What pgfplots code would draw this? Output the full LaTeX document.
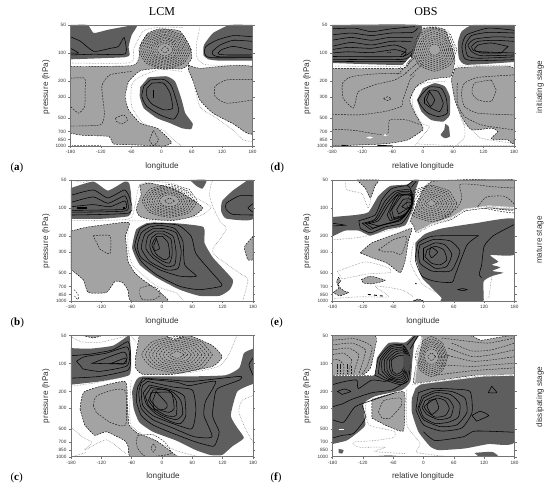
\documentclass[border=0pt]{standalone}
\usepackage{fontspec}
\setmainfont{Liberation Sans}
\newfontfamily\serif{Liberation Serif}
\usepackage{pgfplots}
\pgfplotsset{compat=1.18}
\definecolor{lg}{gray}{0.64}
\definecolor{dg}{gray}{0.37}
\definecolor{fr}{gray}{0.45}
\definecolor{tx}{gray}{0.2}
\pgfplotsset{
 cellaxis/.style={scale only axis,width=182pt,height=121pt,anchor=south west,
  xmin=-180,xmax=180,ymin=50,ymax=1000,y dir=reverse,
  xtick={-180,-120,-60,0,60,120,180},
  xticklabels={-180,-120,-60,0,60,120,180},
  ytick={50,100,200,300,500,700,850,1000},
  yticklabels={50,100,200,300,500,700,850,1000},
  minor tick num=0,
  axis line style={draw=fr,line width=.5pt},
  tick style={draw=fr,line width=.4pt},major tick length=2pt,
  tick align=outside,xtick pos=bottom,ytick pos=both,yticklabel pos=left,
  ticklabel style={font=\fontsize{4.7}{5}\selectfont,text=tx},
  xticklabel style={yshift=1pt},yticklabel style={xshift=1pt},
  axis on top},
 lgf/.style={fill=lg,draw=black,dash pattern=on 1.8pt off 1.2pt,line width=.45pt,mark=none,smooth,tension=.3},
 dgf/.style={fill=dg,draw=none,mark=none,smooth,tension=.3},
 wtf/.style={fill=white,draw=none,mark=none},
 scn/.style={draw=black,solid,line width=.55pt,mark=none,smooth,tension=.35},
 kdn/.style={draw=black!90,dash pattern=on 1.8pt off 1.2pt,line width=.45pt,mark=none,smooth,tension=.35},
 zdt/.style={draw=black!50,densely dotted,line width=.55pt,mark=none,smooth,tension=.35},
 bwh/.style={draw=white,solid,line width=1.6pt,mark=none},
}
\newcommand{\lab}[3]{\node[font=\fontsize{8.2}{9}\selectfont,text=tx] at (#1pt,#2pt) {#3};}
\newcommand{\rlab}[3]{\node[rotate=90,font=\fontsize{8.2}{9}\selectfont,text=tx] at (#1pt,#2pt) {#3};}
\begin{document}
\begin{tikzpicture}
\path[use as bounding box] (0pt,0pt) rectangle (550pt,488pt);
% ---------- (a)
\begin{semilogyaxis}[cellaxis,at={(70.5pt,342pt)}]
\addplot[lgf] coordinates {(-180,140)(-59,137)(-45,115)(-42,85)(-28,62)(-3,55)(36,58)(56,85)(60,112)(50,137)(40,148)(-3,146)(-42,155)(-65,203)(-72,294)(-65,408)(-42,568)(-9,643)(10,790)(20,925)(4,1000)(-55,972)(-95,950)(-104,790)(-154,770)(-180,730)} --cycle;
\addplot[lgf] coordinates {(53,134)(76,146)(180,143)(180,730)(142,578)(102,444)(76,320)(63,203)(53,152)} --cycle;
\addplot[dgf] coordinates {(-180,50)(-146,50)(-134,61)(-104,56)(-49,50)(-59,64)(-65,85)(-63,105)(-72,111)(-121,114)(-180,117)} --cycle;
\addplot[dgf] coordinates {(180,50)(135,50)(102,61)(84,82)(83,105)(93,117)(116,121)(180,121)} --cycle;
\addplot[dgf] coordinates {(-26,183)(10,178)(27,203)(40,320)(47,444)(62,578)(58,660)(40,643)(17,568)(-9,502)(-35,392)(-43,294)(-42,232)} --cycle;
\addplot[scn,smooth=false] coordinates {(-180,67)(-160,75)(-134,96)(-101,89)(-85,85)(-74,68)(-72,102)(-134,103)(-180,105)};
\addplot[scn] coordinates {(-180,89)(-164,100)(-180,100)};
\addplot[scn] coordinates {(180,67)(142,65)(109,73)(88,85)(85,100)(96,112)(180,112)};
\addplot[scn] coordinates {(180,75)(142,73)(116,82)(101,96)(102,105)(116,110)(180,110)};
\addplot[scn] coordinates {(180,93)(142,85)(119,92)(112,102)(129,105)(180,105)};
\addplot[scn] coordinates {(-22,195)(4,192)(20,228)(34,408)(24,515)(-3,463)(-29,376)(-39,294)(-35,228)} --cycle;
\addplot[scn] coordinates {(-19,211)(4,211)(17,271)(22,392)(4,408)(-19,353)(-29,294)(-29,239)} --cycle;
\addplot[scn,line width=1pt] coordinates {(-15,250)(-15,305)};
\addplot[kdn] coordinates {(-180,187)(-152,187)(-151,250)(-152,376)(-164,444)(-180,376)};
\addplot[kdn] coordinates {(-59,158)(-102,172)(-118,228)(-113,444)(-121,592)(-180,610)};
\addplot[kdn] coordinates {(-91,502)(-75,463)(-67,525)(-78,578)(-89,546)} --cycle;
\addplot[kdn] coordinates {(-16,680)(-6,860)(-16,990)(-24,860)} --cycle;
\addplot[kdn] coordinates {(180,192)(129,195)(106,228)(106,294)(129,347)(180,320)};
\addplot[kdn] coordinates {(59,92)(44,129)(7,150)(-30,129)(-45,92)(-30,65)(7,56)(44,65)} --cycle;
\addplot[kdn] coordinates {(55,92)(41,126)(7,145)(-27,126)(-41,92)(-27,67)(7,58)(41,67)} --cycle;
\addplot[kdn] coordinates {(51,92)(38,123)(7,139)(-24,123)(-37,92)(-24,69)(7,60)(38,69)} --cycle;
\addplot[kdn] coordinates {(47,92)(35,120)(7,134)(-21,120)(-33,92)(-21,71)(7,63)(35,71)} --cycle;
\addplot[kdn] coordinates {(43,92)(32,117)(7,129)(-18,117)(-29,92)(-18,72)(7,65)(32,72)} --cycle;
\addplot[kdn] coordinates {(39,92)(29,114)(7,125)(-15,114)(-25,92)(-15,74)(7,68)(29,74)} --cycle;
\addplot[kdn] coordinates {(35,92)(26,111)(7,120)(-12,111)(-21,92)(-12,76)(7,70)(26,76)} --cycle;
\addplot[kdn] coordinates {(31,92)(24,109)(7,116)(-10,109)(-17,92)(-10,78)(7,73)(24,78)} --cycle;
\addplot[kdn] coordinates {(27,92)(21,105)(7,112)(-7,105)(-13,92)(-7,80)(7,76)(21,80)} --cycle;
\addplot[kdn] coordinates {(23,92)(18,102)(7,108)(-4,102)(-9,92)(-4,83)(7,79)(18,83)} --cycle;
\addplot[kdn] coordinates {(15,92)(7,100)(-1,92)(7,85)} --cycle;
\addplot[zdt] coordinates {(-180,128)(-62,127)(-55,90)(-36,58)(-6,53)(43,53)};
\addplot[zdt] coordinates {(76,53)(70,75)(70,112)(89,134)(180,135)};
\addplot[zdt] coordinates {(40,158)(-3,150)(-42,180)(-59,220)(-59,376)(-36,568)(4,680)(24,860)(40,1000)};
\addplot[zdt] coordinates {(60,170)(76,376)(109,502)(142,680)(162,860)(180,900)};
\addplot[zdt] coordinates {(-180,990)(-120,990)};
\end{semilogyaxis}
% ---------- (d)
\begin{semilogyaxis}[cellaxis,at={(332pt,342pt)}]
\addplot[lgf] coordinates {(-180,146)(-40,146)(-26,119)(-11,72)(-3,56)(16,53)(43,56)(56,85)(63,119)(56,178)(40,183)(10,195)(-13,228)(-26,320)(-16,444)(-3,592)(0,670)(-30,860)(-66,935)(-96,960)(-180,1000)} --cycle;
\addplot[lgf] coordinates {(63,146)(180,146)(180,895)(168,860)(135,840)(148,699)(135,643)(96,670)(76,482)(63,320)(56,195)} --cycle;
\addplot[wtf] coordinates {(-112,810)(-105,790)(-99,810)(-105,835)} --cycle;
\addplot[wtf] coordinates {(-81,759)(-74,740)(-68,759)(-74,785)} --cycle;
\addplot[dgf] coordinates {(-180,50)(-7,50)(-11,72)(-20,105)(-40,134)(-180,128)} --cycle;
\addplot[dgf] coordinates {(180,50)(99,50)(76,59)(69,78)(71,114)(86,134)(180,125)} --cycle;
\addplot[dgf] coordinates {(0,239)(23,211)(43,228)(53,294)(53,463)(40,546)(16,525)(-3,426)(-12,320)} --cycle;
\addplot[dgf] coordinates {(44,578)(51,620)(53,790)(43,824)(35,759)(42,670)} --cycle;
\addplot[scn] coordinates {(-180,55)(-135,54)(-102,59)(-63,55)(-16,52)};
\addplot[scn] coordinates {(-180,64)(-142,61)(-102,65)(-63,61)(-20,60)(-11,54)};
\addplot[scn] coordinates {(-180,73)(-142,68)(-102,73)(-66,68)(-20,68)};
\addplot[scn] coordinates {(-180,85)(-142,77)(-102,82)(-63,75)(-23,75)};
\addplot[scn] coordinates {(-180,92)(-148,87)(-102,89)(-56,82)(-33,92)(-43,105)};
\addplot[scn] coordinates {(-180,100)(-148,97)(-102,99)(-56,92)(-33,100)(-40,110)};
\addplot[scn] coordinates {(-180,109)(-43,109)(-20,92)};
\addplot[scn] coordinates {(-180,117)(-40,117)(-22,100)};
\addplot[scn] coordinates {(-180,123)(-36,123)(-23,105)};
\addplot[scn,line width=1pt] coordinates {(-72,100)(-64,100)};
\addplot[scn] coordinates {(180,57)(129,54)(86,64)(77,85)(82,114)(102,121)(180,118)};
\addplot[scn] coordinates {(180,61)(129,60)(96,65)(84,82)(88,107)(109,114)(180,110)};
\addplot[scn] coordinates {(180,68)(142,67)(102,71)(89,82)(96,96)(115,107)(180,105)};
\addplot[scn] coordinates {(180,75)(142,73)(109,75)(96,85)(105,96)(180,100)};
\addplot[scn] coordinates {(168,85)(135,78)(109,82)(102,92)(115,100)(155,100)} --cycle;
\addplot[scn,line width=1pt] coordinates {(118,100)(130,100)};
\addplot[scn] coordinates {(-3,282)(13,232)(36,239)(46,306)(48,444)(30,482)(10,444)(-3,376)(-10,320)} --cycle;
\addplot[scn] coordinates {(3,306)(13,252)(30,260)(40,347)(33,426)(16,392)(3,347)} --cycle;
\addplot[scn] coordinates {(13,260)(23,320)(15,376)(7,320)} --cycle;
\addplot[kdn] coordinates {(-43,165)(-96,168)(-142,180)(-159,211)(-158,306)(-138,392)(-132,306)(-128,260)(-96,220)(-56,195)(-33,165)};
\addplot[kdn] coordinates {(-180,455)(-128,463)(-76,426)(-43,376)(-40,320)(-33,250)(-26,195)(-16,172)};
\addplot[kdn] coordinates {(-78,310)(-70,295)(-63,310)(-70,325)} --cycle;
\addplot[kdn] coordinates {(-180,660)(-135,680)(-72,759)(-66,525)(-33,525)(-5,592)};
\addplot[kdn] coordinates {(135,195)(102,211)(97,271)(109,320)(135,333)(145,250)} --cycle;
\addplot[kdn] coordinates {(180,172)(109,183)(82,211)(76,271)(82,376)(109,444)(180,463)};
\addplot[kdn] coordinates {(68,211)(68,347)(82,482)(115,592)(155,643)(180,670)};
\addplot[kdn] coordinates {(67,92)(54,134)(23,157)(-8,134)(-21,92)(-8,63)(23,54)(54,63)} --cycle;
\addplot[kdn] coordinates {(63,92)(51,130)(23,150)(-5,130)(-17,92)(-5,65)(23,56)(51,65)} --cycle;
\addplot[kdn] coordinates {(59,92)(48,125)(23,143)(-2,125)(-13,92)(-2,68)(23,59)(48,68)} --cycle;
\addplot[kdn] coordinates {(55,92)(45,121)(23,136)(1,121)(-9,92)(1,70)(23,62)(45,70)} --cycle;
\addplot[kdn] coordinates {(51,92)(43,117)(23,129)(3,117)(-5,92)(3,72)(23,66)(43,72)} --cycle;
\addplot[kdn] coordinates {(47,92)(40,113)(23,123)(6,113)(-1,92)(6,75)(23,69)(40,75)} --cycle;
\addplot[kdn] coordinates {(43,92)(37,109)(23,117)(9,109)(3,92)(9,78)(23,72)(37,78)} --cycle;
\addplot[kdn] coordinates {(39,92)(34,105)(23,111)(12,105)(7,92)(12,80)(23,76)(34,80)} --cycle;
\addplot[kdn] coordinates {(35,92)(31,102)(23,106)(15,102)(11,92)(15,83)(23,80)(31,83)} --cycle;
\addplot[kdn] coordinates {(-45,143)(-20,110)};
\addplot[kdn] coordinates {(-35,165)(-5,120)};
\addplot[kdn] coordinates {(-25,175)(0,130)};
\addplot[kdn] coordinates {(-50,170)(-15,110)};
\addplot[bwh] coordinates {(-180,138)(-40,138)(-24,112)};
\addplot[bwh] coordinates {(62,138)(180,135)};
\addplot[zdt] coordinates {(-180,138)(-40,138)(-26,107)(-13,66)(-3,54)(23,52)(50,59)(63,107)};
\addplot[zdt] coordinates {(68,138)(180,135)};
\addplot[zdt] coordinates {(56,195)(76,525)(96,660)(115,825)(180,940)};
\addplot[zdt] coordinates {(43,201)(3,211)(-20,250)(-20,376)(-3,568)(13,620)(-3,810)(-16,1000)};
\addplot[zdt] coordinates {(66,220)(69,347)(82,620)(82,810)(66,1000)};
\addplot[zdt] coordinates {(-10,950)(60,990)(180,990)};
\addplot[scn,line width=1pt] coordinates {(-160,985)(-148,1000)};
\addplot[scn,line width=1pt] coordinates {(-90,985)(-60,1000)};
\end{semilogyaxis}
% ---------- (b)
\begin{semilogyaxis}[cellaxis,at={(71pt,187pt)}]
\addplot[lgf] coordinates {(-180,177)(-149,161)(-77,143)(-64,146)(-72,197)(-70,271)(-67,376)(-54,497)(-38,590)(-11,755)(12,1000)(-61,1000)(-67,775)(-77,640)(-93,615)(-110,810)(-146,810)(-156,590)(-180,460)} --cycle;
\addplot[lgf] coordinates {(-44,57)(-24,54)(22,62)(55,78)(81,100)(61,123)(22,136)(-24,132)(-44,123)(-51,104)(-41,72)} --cycle;
\addplot[lgf] coordinates {(180,202)(165,250)(163,277)(170,361)(180,361)} --cycle;
\addplot[dgf] coordinates {(-180,61)(-136,52)(-107,65)(-74,52)(-65,54)(-61,72)(-61,108)(-67,123)(-123,131)(-180,131)} --cycle;
\addplot[dgf] coordinates {(55,50)(88,50)(80,62)(68,58)} --cycle;
\addplot[dgf] coordinates {(170,50)(140,65)(119,84)(117,108)(127,130)(180,131)(180,50)} --cycle;
\addplot[dgf] coordinates {(-16,143)(28,146)(82,160)(84,237)(101,343)(140,590)(134,755)(114,880)(74,880)(35,755)(-11,560)(-44,408)(-59,271)(-51,170)(-31,146)} --cycle;
\addplot[scn] coordinates {(-180,73)(-136,64)(-107,78)(-74,64)(-63,81)(-65,113)(-180,119)};
\addplot[scn] coordinates {(-180,87)(-136,76)(-107,89)(-74,74)(-67,92)(-74,108)(-180,111)};
\addplot[scn] coordinates {(-180,97)(-136,92)(-103,97)(-74,84)(-70,97)(-80,104)(-180,106)};
\addplot[scn,line width=1.1pt] coordinates {(-168,100)(-149,100)};
\addplot[scn,line width=1.1pt] coordinates {(-77,100)(-74,100)};
\addplot[scn] coordinates {(180,74)(153,74)(127,89)(127,104)(140,117)(180,119)};
\addplot[scn] coordinates {(180,90)(170,100)(180,111)};
\addplot[scn] coordinates {(-11,146)(32,153)(58,202)(68,315)(114,615)(117,695)(74,755)(35,695)(-11,520)(-41,376)(-54,258)(-44,170)(-28,150)} --cycle;
\addplot[scn] coordinates {(-5,153)(25,166)(41,226)(45,408)(68,540)(35,540)(-5,460)(-41,343)(-49,258)(-41,185)(-24,160)} --cycle;
\addplot[scn] coordinates {(2,166)(28,185)(38,291)(32,444)(9,463)(-24,376)(-41,271)(-34,192)(-18,167)} --cycle;
\addplot[scn] coordinates {(2,177)(22,202)(28,304)(25,408)(9,426)(-18,343)(-32,271)(-28,202)(-14,177)} --cycle;
\addplot[scn] coordinates {(2,190)(18,218)(20,315)(15,390)(2,376)(-18,315)(-24,258)(-21,211)(-11,190)} --cycle;
\addplot[scn] coordinates {(1,202)(12,237)(15,333)(5,361)(-11,315)(-20,250)(-11,202)} --cycle;
\addplot[scn] coordinates {(-11,214)(-5,273)(-15,286)(-16,250)} --cycle;
\addplot[kdn] coordinates {(-136,199)(-103,199)(-103,310)(-123,277)} --cycle;
\addplot[kdn] coordinates {(-44,730)(-24,680)(-6,755)(-5,885)(-18,965)(-38,965)(-44,850)} --cycle;
\addplot[kdn] coordinates {(-174,755)(-166,850)(-166,965)(-173,885)};
\addplot[kdn] coordinates {(70,84)(54,112)(15,126)(-24,112)(-39,84)(-24,63)(15,56)(54,63)} --cycle;
\addplot[kdn] coordinates {(65,84)(50,109)(15,122)(-20,109)(-35,84)(-20,65)(15,58)(50,65)} --cycle;
\addplot[kdn] coordinates {(60,84)(46,106)(15,117)(-16,106)(-30,84)(-16,66)(15,60)(46,66)} --cycle;
\addplot[kdn] coordinates {(55,84)(43,103)(15,113)(-13,103)(-25,84)(-13,68)(15,62)(43,68)} --cycle;
\addplot[kdn] coordinates {(50,84)(40,100)(15,109)(-10,100)(-20,84)(-10,70)(15,64)(40,70)} --cycle;
\addplot[kdn] coordinates {(45,84)(36,98)(15,105)(-6,98)(-15,84)(-6,72)(15,67)(36,72)} --cycle;
\addplot[kdn] coordinates {(40,84)(32,95)(15,101)(-2,95)(-10,84)(-2,73)(15,69)(32,73)} --cycle;
\addplot[kdn] coordinates {(35,84)(29,93)(15,97)(1,93)(-5,84)(1,75)(15,72)(29,75)} --cycle;
\addplot[kdn] coordinates {(25,84)(15,90)(5,84)(15,78)} --cycle;
\addplot[zdt] coordinates {(-180,137)(-67,132)(-54,97)(-44,56)(-11,52)(28,56)(68,78)(97,98)(74,122)(-5,137)(-67,137)};
\addplot[zdt] coordinates {(101,50)(97,56)(94,72)(101,98)(114,137)(127,170)(100,280)(107,330)(153,500)(170,590)(160,990)};
\addplot[zdt] coordinates {(-67,160)(-67,280)(-57,420)(-11,690)(28,820)(43,1000)};
\addplot[zdt] coordinates {(-180,50)(-155,53)(-140,50)};
\end{semilogyaxis}
% ---------- (e)
\begin{semilogyaxis}[cellaxis,at={(332.5pt,187pt)}]
\addplot[lgf] coordinates {(-132,50)(-89,50)(-96,58)(-105,78)(-115,61)} --cycle;
\addplot[lgf] coordinates {(-3,66)(16,52)(63,50)(180,50)(180,104)(129,100)(82,108)(56,132)(16,153)(-13,185)(-20,153)(-26,137)(-13,92)} --cycle;
\addplot[lgf] coordinates {(-125,304)(-102,237)(-49,185)(-23,166)(-30,226)(-36,361)(-46,497)(-72,392)(-102,343)} --cycle;
\addplot[lgf] coordinates {(-123,590)(-105,540)(-76,600)(-102,655)(-119,640)} --cycle;
\addplot[lgf] coordinates {(-168,555)(-164,615)(-169,655)(-164,730)(-155,790)(-148,810)(-165,880)(-178,810)(-168,730)(-172,615)} --cycle;
\addplot[lgf] coordinates {(-20,990)(-10,950)(0,1000)} --cycle;
\addplot[dgf] coordinates {(-180,125)(-135,119)(-109,111)(-89,74)(-66,58)(-33,56)(-20,50)(-9,50)(-16,65)(-20,97)(-36,153)(-72,170)(-105,198)(-128,175)(-155,175)(-180,202)} --cycle;
\addplot[dgf,smooth=false] coordinates {(-16,237)(3,190)(36,166)(102,146)(180,131)(180,315)(132,320)(148,378)(135,408)(152,435)(136,475)(158,497)(135,540)(119,615)(119,930)(115,1000)(36,1000)(36,930)(10,665)(-3,560)(-16,343)} --cycle;
\addplot[scn] coordinates {(-128,137)(-96,119)(-82,81)(-63,62)(-30,58)(-20,78)(-26,108)(-43,146)(-76,160)(-105,185)(-125,166)} --cycle;
\addplot[scn] coordinates {(-121,146)(-96,132)(-76,84)(-56,66)(-26,64)(-22,84)(-30,108)(-46,137)(-76,150)(-105,170)} --cycle;
\addplot[scn] coordinates {(-115,146)(-93,134)(-72,88)(-52,68)(-26,67)(-22,88)(-33,113)(-50,137)(-82,153)(-100,165)} --cycle;
\addplot[scn] coordinates {(-109,146)(-89,137)(-69,92)(-49,70)(-26,70)(-23,92)(-36,119)(-53,137)(-89,156)} --cycle;
\addplot[scn] coordinates {(-72,119)(-53,74)(-26,73)(-24,93)(-40,123)(-66,137)} --cycle;
\addplot[scn] coordinates {(-67,112)(-48,74)(-25,73)(-24,95)(-40,121)(-62,132)} --cycle;
\addplot[scn] coordinates {(-63,104)(-43,74)(-23,74)(-24,97)(-40,119)(-59,127)} --cycle;
\addplot[scn] coordinates {(-53,104)(-40,81)(-24,81)(-26,97)(-40,108)(-49,116)} --cycle;
\addplot[scn] coordinates {(-43,97)(-33,87)(-24,87)(-26,97)(-36,101)} --cycle;
\addplot[scn] coordinates {(-33,58)(-18,50)};
\addplot[scn] coordinates {(-24,60)(-13,50)};
\addplot[scn] coordinates {(-180,156)(-155,153)(-180,146)};
\addplot[scn] coordinates {(109,198)(86,250)(63,520)(56,630)(23,615)(-3,540)(-16,361)(-10,237)(16,202)(56,198)(109,198)};
\addplot[scn] coordinates {(-7,250)(20,218)(53,226)(72,291)(59,444)(49,483)(16,475)(-7,392)(-10,291)} --cycle;
\addplot[scn] coordinates {(0,271)(23,237)(43,250)(56,315)(46,426)(23,444)(0,361)} --cycle;
\addplot[scn] coordinates {(7,282)(23,258)(40,282)(46,361)(33,408)(16,392)(3,333)} --cycle;
\addplot[scn] coordinates {(15,262)(28,297)(16,343)(11,304)} --cycle;
\addplot[scn] coordinates {(180,150)(138,199)(120,258)(115,408)(110,520)(115,560)};
\addplot[scn] coordinates {(68,755)(77,735)(86,755)(77,775)} --cycle;
\addplot[kdn] coordinates {(107,97)(125,76)(161,75)(180,92)(180,113)(141,106)} --cycle;
\addplot[kdn] coordinates {(180,61)(135,59)(102,56)(72,56)(76,78)(66,100)(36,132)(-3,166)};
\addplot[kdn] coordinates {(-89,282)(-59,218)(-36,202)(-33,218)(-44,315)(-59,297)(-76,297)} --cycle;
\addplot[kdn] coordinates {(66,89)(51,122)(16,140)(-19,122)(-34,89)(-19,65)(16,57)(51,65)} --cycle;
\addplot[kdn] coordinates {(61,89)(47,118)(16,134)(-15,118)(-29,89)(-15,67)(16,59)(47,67)} --cycle;
\addplot[kdn] coordinates {(56,89)(44,115)(16,128)(-12,115)(-24,89)(-12,69)(16,62)(44,69)} --cycle;
\addplot[kdn] coordinates {(51,89)(40,111)(16,122)(-8,111)(-19,89)(-8,71)(16,65)(40,71)} --cycle;
\addplot[kdn] coordinates {(46,89)(37,108)(16,117)(-5,108)(-14,89)(-5,74)(16,68)(37,74)} --cycle;
\addplot[kdn] coordinates {(41,89)(33,104)(16,112)(-1,104)(-9,89)(-1,76)(16,71)(33,76)} --cycle;
\addplot[kdn] coordinates {(36,89)(30,101)(16,107)(2,101)(-4,89)(2,79)(16,74)(30,79)} --cycle;
\addplot[kdn] coordinates {(31,89)(23,99)(16,102)(9,99)(1,89)(9,80)(16,77)(23,80)} --cycle;
\addplot[kdn] coordinates {(26,89)(16,97)(6,89)(16,81)} --cycle;
\addplot[bwh] coordinates {(-15,185)(16,150)(56,128)(82,104)(129,96)(180,100)};
\addplot[zdt] coordinates {(-15,185)(16,150)(56,128)(82,104)(129,96)(180,100)};
\addplot[zdt] coordinates {(-180,220)(-122,205)(-43,160)};
\addplot[zdt] coordinates {(-155,52)(-151,64)(-122,70)(-109,100)(-100,60)(-89,50)};
\addplot[zdt] coordinates {(-170,480)(-115,380)(-69,440)(-66,495)(-108,510)(-161,580)} --cycle;
\addplot[zdt] coordinates {(-180,940)(-122,900)(-69,900)(-96,690)(-43,760)(-20,900)};
\addplot[zdt] coordinates {(-20,237)(-25,400)(-3,650)(23,800)(36,900)};
\addplot[zdt] coordinates {(135,540)(129,940)};
\addplot[zdt] coordinates {(-19,100)(-26,137)(-30,150)};
\addplot[zdt] coordinates {(-3,62)(16,50)};
\addplot[scn,line width=.9pt,dashed] coordinates {(-110,850)(-80,885)};
\addplot[scn,line width=.9pt] coordinates {(-170,1000)(-120,1000)};
\addplot[scn,line width=1pt] coordinates {(-16,645)(-14,655)};
\end{semilogyaxis}
% ---------- (c)
\begin{semilogyaxis}[cellaxis,at={(71pt,31.3pt)}]
\addplot[lgf] coordinates {(-162,313)(-153,199)(-74,155)(-69,255)(-65,455)(-48,560)(-12,670)(28,972)(28,1000)(-61,1000)(-67,775)(-74,670)(-110,540)(-133,590)(-153,455)} --cycle;
\addplot[lgf] coordinates {(-45,50)(8,50)(21,56)(44,50)(60,51)(100,64)(119,84)(100,107)(21,130)(-38,130)(-52,111)(-52,84)} --cycle;
\addplot[lgf] coordinates {(-156,50)(-120,50)(-136,53)} --cycle;
\addplot[dgf] coordinates {(-180,68)(-143,69)(-97,64)(-67,50)(-64,50)(-61,87)(-65,133)(-123,155)(-180,168)} --cycle;
\addplot[dgf] coordinates {(180,69)(162,77)(153,111)(126,133)(54,137)(-38,137)(-51,150)(-59,199)(-56,303)(-45,426)(-18,540)(28,670)(67,850)(96,960)(119,960)(139,775)(162,630)(149,490)(136,361)(149,199)(180,165)} --cycle;
\addplot[scn] coordinates {(-180,82)(-143,79)(-97,71)(-67,58)(-62,84)(-67,117)(-123,137)(-180,143)};
\addplot[scn] coordinates {(-169,94)(-153,84)(-110,77)(-69,66)(-64,87)(-71,107)(-123,121)(-156,114)} --cycle;
\addplot[scn] coordinates {(-138,99)(-77,75)(-69,87)(-76,101)} --cycle;
\addplot[scn] coordinates {(-102,100)(-72,87)(-71,99)} --cycle;
\addplot[scn] coordinates {(180,87)(172,103)(180,133)};
\addplot[scn] coordinates {(-38,143)(21,150)(60,155)(153,137)(153,150)(116,178)(106,199)(100,361)(113,540)(106,730)(100,775)(67,695)(21,560)(-18,455)(-41,361)(-51,248)(-48,178)} --cycle;
\addplot[scn] coordinates {(-31,146)(28,158)(54,172)(106,155)(86,255)(83,361)(99,610)(64,610)(21,490)(-18,400)(-41,303)(-46,205)(-41,160)} --cycle;
\addplot[scn] coordinates {(-28,155)(21,178)(60,192)(67,303)(64,426)(57,505)(21,440)(-18,361)(-38,282)(-41,199)(-38,170)} --cycle;
\addplot[scn] coordinates {(-25,170)(21,192)(44,224)(47,361)(37,440)(21,426)(-12,347)(-31,271)(-37,205)} --cycle;
\addplot[scn] coordinates {(-22,180)(18,197)(37,248)(41,347)(28,400)(1,361)(-25,290)(-33,224)} --cycle;
\addplot[scn] coordinates {(-18,192)(11,192)(28,248)(28,361)(8,361)(-15,303)(-27,248)} --cycle;
\addplot[scn] coordinates {(-15,205)(18,205)(24,303)(14,333)(-5,313)(-23,248)(-22,205)} --cycle;
\addplot[scn] coordinates {(-12,199)(10,271)(7,306)(-15,313)(-18,248)} --cycle;
\addplot[kdn] coordinates {(-136,282)(-130,224)(-97,192)(-72,197)(-72,455)(-103,426)(-130,333)} --cycle;
\addplot[kdn] coordinates {(-48,590)(-18,580)(5,695)(18,925)(-31,1000)(-48,815)(-51,670)} --cycle;
\addplot[kdn] coordinates {(-17,730)(-12,800)(-17,895)(-22,805)} --cycle;
\addplot[kdn] coordinates {(100,80)(79,110)(30,126)(-19,110)(-40,80)(-19,58)(30,51)(79,58)} --cycle;
\addplot[kdn] coordinates {(93,80)(74,106)(30,120)(-14,106)(-33,80)(-14,60)(30,53)(74,60)} --cycle;
\addplot[kdn] coordinates {(86,80)(69,103)(30,115)(-9,103)(-26,80)(-9,62)(30,56)(69,62)} --cycle;
\addplot[kdn] coordinates {(79,80)(64,100)(30,110)(-4,100)(-19,80)(-4,64)(30,58)(64,64)} --cycle;
\addplot[kdn] coordinates {(72,80)(59,97)(30,105)(1,97)(-12,80)(1,66)(30,61)(59,66)} --cycle;
\addplot[kdn] coordinates {(65,80)(54,94)(30,100)(6,94)(-5,80)(6,68)(30,64)(54,68)} --cycle;
\addplot[kdn] coordinates {(58,80)(50,91)(30,96)(10,91)(2,80)(10,71)(30,67)(50,71)} --cycle;
\addplot[kdn] coordinates {(51,80)(40,89)(30,92)(20,89)(9,80)(20,72)(30,70)(40,72)} --cycle;
\addplot[kdn] coordinates {(44,80)(30,88)(16,80)(30,73)} --cycle;
\addplot[zdt] coordinates {(-180,51)(-160,58)(-123,59)(-67,50)};
\addplot[zdt] coordinates {(-180,175)(-130,160)(-72,137)};
\addplot[zdt] coordinates {(-61,50)(-50,60)};
\addplot[zdt] coordinates {(148,50)(132,80)(112,107)(54,125)(-38,132)};
\addplot[zdt] coordinates {(-180,480)(-156,620)(-139,700)(-153,850)(-110,660)(-71,930)};
\addplot[zdt] coordinates {(-172,980)(-150,900)};
\addplot[zdt] coordinates {(-61,150)(-64,300)(-61,460)(-31,610)(28,860)(73,1000)};
\addplot[zdt] coordinates {(180,220)(158,250)(152,330)(165,500)(180,700)};
\end{semilogyaxis}
% ---------- (f)
\begin{semilogyaxis}[cellaxis,at={(332.5pt,31.3pt)}]
\addplot[lgf] coordinates {(-180,50)(-96,50)(-96,68)(-105,111)(-122,133)(-180,133)} --cycle;
\addplot[lgf] coordinates {(-3,50)(92,50)(115,56)(180,51)(180,128)(102,133)(36,150)(-3,160)(-20,160)(-13,94)} --cycle;
\addplot[lgf] coordinates {(-102,242)(-40,199)(-37,303)(-40,530)(-69,475)(-102,385)} --cycle;
\addplot[dgf] coordinates {(-180,134)(-99,134)(-92,87)(-69,60)(-36,59)(-20,50)(-9,50)(-18,60)(-22,91)(-26,155)(-43,192)(-96,224)(-119,271)(-115,455)(-132,560)(-152,670)(-180,730)} --cycle;
\addplot[dgf] coordinates {(-16,185)(-3,165)(49,150)(115,137)(180,137)(180,695)(129,730)(82,815)(30,850)(13,775)(-10,540)(-23,333)(-23,234)} --cycle;
\addplot[dgf] coordinates {(101,910)(135,885)(147,972)(135,1000)(109,1000)} --cycle;
\addplot[dgf] coordinates {(-168,824)(-158,850)(-161,925)(-168,910)} --cycle;
\addplot[scn,line width=1pt] coordinates {(-96,1000)(-69,985)(-48,1000)};
\addplot[scn] coordinates {(-10,205)(16,185)(56,187)(92,199)(96,333)(76,490)(36,530)(0,455)(-15,313)} --cycle;
\addplot[scn] coordinates {(-3,224)(23,195)(56,199)(82,234)(86,333)(66,455)(33,475)(0,400)(-11,303)} --cycle;
\addplot[scn] coordinates {(0,234)(23,205)(53,214)(72,271)(69,376)(49,426)(23,440)(0,376)(-8,290)} --cycle;
\addplot[scn] coordinates {(3,250)(26,220)(49,239)(59,290)(53,376)(30,400)(7,352)(-3,297)} --cycle;
\addplot[scn] coordinates {(7,271)(26,234)(43,250)(51,303)(43,361)(23,376)(7,325)(1,290)} --cycle;
\addplot[scn] coordinates {(11,250)(24,242)(30,303)(16,352)(7,290)} --cycle;
\addplot[scn] coordinates {(180,546)(102,530)(79,610)(23,670)(0,540)};
\addplot[scn] coordinates {(135,175)(145,205)(128,205)} --cycle;
\addplot[scn] coordinates {(96,361)(112,325)(129,361)(105,415)} --cycle;
\addplot[scn] coordinates {(-180,168)(-155,155)(-132,150)(-129,185)(-102,150)(-76,155)(-59,143)};
\addplot[scn] coordinates {(-180,290)(-161,271)(-142,242)(-102,205)(-63,192)(-33,155)};
\addplot[scn] coordinates {(-180,400)(-158,426)(-135,290)(-96,242)(-56,205)};
\addplot[scn] coordinates {(-180,630)(-161,590)(-138,560)(-115,385)(-121,282)};
\addplot[scn] coordinates {(-170,199)(-157,187)(-144,199)(-161,214)} --cycle;
\addplot[scn] coordinates {(-96,133)(-89,87)(-66,64)(-40,63)(-26,87)(-30,150)(-46,168)(-76,150)} --cycle;
\addplot[scn] coordinates {(-89,127)(-85,89)(-64,66)(-40,65)(-28,89)(-33,146)(-47,161)(-72,146)} --cycle;
\addplot[scn] coordinates {(-82,121)(-82,91)(-63,69)(-40,68)(-30,91)(-36,143)(-49,155)(-69,143)} --cycle;
\addplot[scn] coordinates {(-77,119)(-77,91)(-60,72)(-40,70)(-31,92)(-38,138)(-51,149)(-67,138)} --cycle;
\addplot[scn] coordinates {(-72,117)(-72,91)(-56,75)(-40,73)(-33,94)(-40,133)(-53,143)(-66,133)} --cycle;
\addplot[scn] coordinates {(-67,112)(-67,91)(-52,78)(-39,77)(-34,94)(-41,127)(-53,136)(-63,127)} --cycle;
\addplot[scn] coordinates {(-63,107)(-63,91)(-49,82)(-38,82)(-35,94)(-43,121)(-53,130)(-61,121)} --cycle;
\addplot[scn] coordinates {(-33,63)(-16,50)};
\addplot[scn] coordinates {(-26,69)(-11,50)};
\addplot[dgf,fill=black!70] coordinates {(-40,77)(-23,87)(-30,121)(-40,111)} --cycle;
\addplot[bwh,line width=1pt] coordinates {(-168,510)(-157,510)};
\addplot[kdn] coordinates {(-89,333)(-79,250)(-46,234)(-44,282)(-66,385)(-82,385)} --cycle;
\addplot[kdn] coordinates {(-180,56)(-135,54)(-102,66)(-112,107)(-121,128)};
\addplot[kdn] coordinates {(-180,63)(-142,60)(-115,71)(-123,107)(-128,130)};
\addplot[kdn] coordinates {(-180,71)(-148,68)(-128,80)(-135,111)(-138,130)};
\addplot[kdn] coordinates {(-180,80)(-158,77)(-142,91)(-147,111)(-148,130)};
\addplot[kdn] coordinates {(-180,91)(-168,91)(-158,103)(-158,130)};
\addplot[kdn] coordinates {(-171,101)(-171,130)};
\addplot[kdn] coordinates {(-165,101)(-165,130)};
\addplot[kdn] coordinates {(-151,101)(-151,130)};
\addplot[kdn] coordinates {(-143,105)(-143,130)};
\addplot[kdn] coordinates {(36,53)(96,58)(129,60)(180,53)};
\addplot[kdn] coordinates {(56,60)(96,73)(135,71)(180,60)};
\addplot[kdn] coordinates {(49,68)(96,84)(135,80)(180,71)};
\addplot[kdn] coordinates {(43,80)(96,94)(135,91)(180,84)};
\addplot[kdn] coordinates {(36,103)(96,107)(135,103)(180,99)};
\addplot[kdn] coordinates {(23,133)(96,119)(180,111)};
\addplot[kdn] coordinates {(48,84)(38,118)(16,138)(-6,118)(-16,84)(-6,60)(16,51)(38,60)} --cycle;
\addplot[kdn] coordinates {(45,84)(36,114)(16,131)(-4,114)(-13,84)(-4,62)(16,54)(36,62)} --cycle;
\addplot[kdn] coordinates {(42,84)(34,111)(16,125)(-2,111)(-10,84)(-2,64)(16,57)(34,64)} --cycle;
\addplot[kdn] coordinates {(39,84)(32,107)(16,119)(0,107)(-7,84)(0,66)(16,59)(32,66)} --cycle;
\addplot[kdn] coordinates {(36,84)(30,103)(16,113)(2,103)(-4,84)(2,68)(16,62)(30,68)} --cycle;
\addplot[kdn] coordinates {(33,84)(28,100)(16,107)(4,100)(-1,84)(4,70)(16,65)(28,70)} --cycle;
\addplot[kdn] coordinates {(30,84)(26,97)(16,102)(6,97)(2,84)(6,73)(16,69)(26,73)} --cycle;
\addplot[kdn] coordinates {(24,84)(16,93)(8,84)(16,76)} --cycle;
\addplot[bwh,line width=1.4pt] coordinates {(-180,134)(-105,134)};
\addplot[bwh,line width=1.4pt] coordinates {(-22,168)(36,153)(115,135)(180,132)};
\addplot[bwh,line width=1.2pt] coordinates {(-18,160)(-13,94)(-3,52)};
\addplot[zdt] coordinates {(-180,134)(-105,134)};
\addplot[zdt] coordinates {(-22,168)(36,153)(115,135)(180,132)};
\addplot[zdt] coordinates {(-18,160)(-13,94)(-3,52)};
\addplot[zdt] coordinates {(-110,224)(-115,282)(-108,455)(-59,530)(-59,620)(-96,670)(-139,700)(-128,790)(-76,790)(-96,880)(-36,925)};
\addplot[zdt] coordinates {(-33,185)(-33,455)(-7,720)(-13,900)(50,1000)};
\end{semilogyaxis}
% ---------- text
\node[font=\serif\fontsize{12}{13}\selectfont] at (162pt,476pt) {LCM};
\node[font=\serif\fontsize{12}{13}\selectfont] at (426pt,476pt) {OBS};
\lab{162}{322}{longitude}
\lab{423}{322}{relative longitude}
\lab{162}{167}{longitude}
\lab{423}{167}{longitude}
\lab{163}{12}{longitude}
\lab{423}{12}{relative longitude}
\rlab{46}{401}{pressure (hPa)}
\rlab{307}{401}{pressure (hPa)}
\rlab{46}{247}{pressure (hPa)}
\rlab{307}{247}{pressure (hPa)}
\rlab{46}{92}{pressure (hPa)}
\rlab{307}{92}{pressure (hPa)}
\rlab{540}{401}{initiating stage}
\rlab{540}{248}{mature stage}
\rlab{540}{91}{dissipating stage}
\node[font=\serif\fontsize{11}{12}\selectfont,anchor=west] at (7pt,320pt) {(\textbf{a})};
\node[font=\serif\fontsize{11}{12}\selectfont,anchor=west] at (7pt,165pt) {(\textbf{b})};
\node[font=\serif\fontsize{11}{12}\selectfont,anchor=west] at (7pt,10pt) {(\textbf{c})};
\node[font=\serif\fontsize{11}{12}\selectfont,anchor=west] at (267pt,320pt) {(\textbf{d})};
\node[font=\serif\fontsize{11}{12}\selectfont,anchor=west] at (267pt,165pt) {(\textbf{e})};
\node[font=\serif\fontsize{11}{12}\selectfont,anchor=west] at (267pt,10pt) {(\textbf{f})};
\end{tikzpicture}
\end{document}
